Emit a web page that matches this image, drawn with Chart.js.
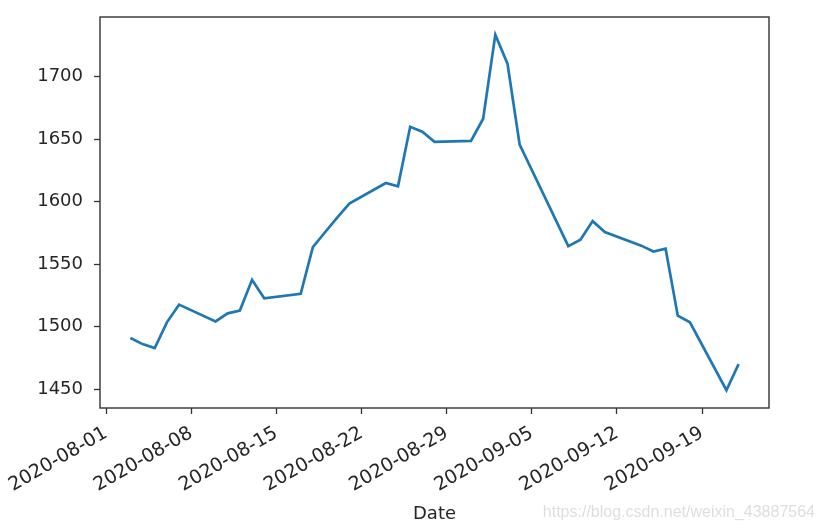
<!DOCTYPE html>
<html>
<head>
<meta charset="utf-8">
<script src="https://cdn.jsdelivr.net/npm/chart.js@4"></script>
<style>
  html, body { margin: 0; padding: 0; background: #ffffff; }
  #wrap { width: 825px; height: 529px; }
</style>
</head>
<body>
<div id="wrap"><canvas id="c" width="825" height="529"></canvas></div>
<script>
// ---- data ----
const dates = [
  '2020-08-03','2020-08-04','2020-08-05','2020-08-06','2020-08-07',
  '2020-08-10','2020-08-11','2020-08-12','2020-08-13','2020-08-14',
  '2020-08-17','2020-08-18','2020-08-19','2020-08-20','2020-08-21',
  '2020-08-24','2020-08-25','2020-08-26','2020-08-27','2020-08-28',
  '2020-08-31','2020-09-01','2020-09-02','2020-09-03','2020-09-04',
  '2020-09-08','2020-09-09','2020-09-10','2020-09-11',
  '2020-09-14','2020-09-15','2020-09-16','2020-09-17','2020-09-18',
  '2020-09-21','2020-09-22'
];
const closeValues = [
  1490.9, 1486.0, 1482.8, 1503.4, 1517.6,
  1504.2, 1510.6, 1512.8, 1537.4, 1522.6,
  1526.2, 1563.6, 1575.5, 1587.2, 1598.4,
  1614.9, 1612.3, 1659.9, 1655.9, 1647.8,
  1648.6, 1666.3, 1733.5, 1710.4, 1645.7,
  1564.4, 1569.5, 1584.4, 1575.6,
  1564.8, 1560.1, 1562.3, 1508.7, 1503.4,
  1449.1, 1470.0
];
const xTickDates = ['2020-08-01','2020-08-08','2020-08-15','2020-08-22','2020-08-29','2020-09-05','2020-09-12','2020-09-19'];
const yTickValues = [1450, 1500, 1550, 1600, 1650, 1700];
const xAxisTitle = 'Date';
const watermark = 'https://blog.csdn.net/weixin_43887564';

// ---- helpers ----
const dayOf = s => Date.parse(s) / 864e5;
const points = dates.map((d, i) => ({ x: dayOf(d), y: closeValues[i] }));
const xs = points.map(p => p.x), ys = closeValues;
const xMinD = Math.min(...xs), xMaxD = Math.max(...xs);
const yMinD = Math.min(...ys), yMaxD = Math.max(...ys);
const xm = (xMaxD - xMinD) * 0.05, ym = (yMaxD - yMinD) * 0.05;

const tickFont = { family: 'DejaVu Sans', size: 18 };
const xTickFont = { family: 'DejaVu Sans', size: 19 };
const textColor = '#262626';

const framePlugin = {
  id: 'frame',
  afterDatasetsDraw(chart) {
    const { ctx, chartArea: a } = chart;
    ctx.save();
    ctx.strokeStyle = '#333333';
    ctx.lineWidth = 1.4;
    ctx.strokeRect(a.left, a.top, a.right - a.left, a.bottom - a.top);
    ctx.restore();
  },
  afterDraw(chart) {
    const { ctx } = chart;
    ctx.save();
    ctx.font = '16px "Liberation Sans", Arial, sans-serif';
    ctx.fillStyle = '#dedede';
    ctx.textAlign = 'right';
    ctx.textBaseline = 'alphabetic';
    ctx.fillText(watermark, 815, 517);
    ctx.restore();
  }
};

new Chart(document.getElementById('c'), {
  type: 'line',
  data: {
    datasets: [{
      data: points,
      borderColor: '#1f77b4',
      borderWidth: 2.7,
      pointRadius: 0,
      pointHoverRadius: 0,
      tension: 0,
      fill: false
    }]
  },
  options: {
    responsive: false,
    devicePixelRatio: 1,
    animation: false,
    events: [],
    layout: { padding: { top: 17, right: 56, left: 0, bottom: 0 } },
    plugins: { legend: { display: false }, tooltip: { enabled: false } },
    scales: {
      x: {
        type: 'linear',
        min: xMinD - xm,
        max: xMaxD + xm,
        afterFit(scale) { scale.height = 121; scale.paddingLeft = 0; scale.paddingRight = 0; },
        afterBuildTicks(scale) { scale.ticks = xTickDates.map(d => ({ value: dayOf(d) })); },
        ticks: {
          autoSkip: false,
          minRotation: 30,
          maxRotation: 30,
          font: xTickFont,
          color: textColor,
          padding: 8,
          callback: (v, i) => xTickDates[i]
        },
        grid: { display: true, drawOnChartArea: false, drawTicks: true, tickLength: 6, tickColor: '#333333', tickWidth: 1.3 },
        border: { display: false },
        title: { display: true, text: xAxisTitle, font: tickFont, color: textColor, padding: { top: 0, bottom: 4 } }
      },
      y: {
        type: 'linear',
        min: yMinD - ym,
        max: yMaxD + ym,
        afterFit(scale) { scale.width = 100; scale.paddingTop = 0; scale.paddingBottom = 0; },
        afterBuildTicks(scale) { scale.ticks = yTickValues.map(v => ({ value: v })); },
        ticks: {
          font: tickFont,
          color: textColor,
          padding: 11,
          callback: v => String(v)
        },
        grid: { display: true, drawOnChartArea: false, drawTicks: true, tickLength: 6, tickColor: '#333333', tickWidth: 1.3 },
        border: { display: false }
      }
    }
  },
  plugins: [framePlugin]
});
</script>
</body>
</html>
